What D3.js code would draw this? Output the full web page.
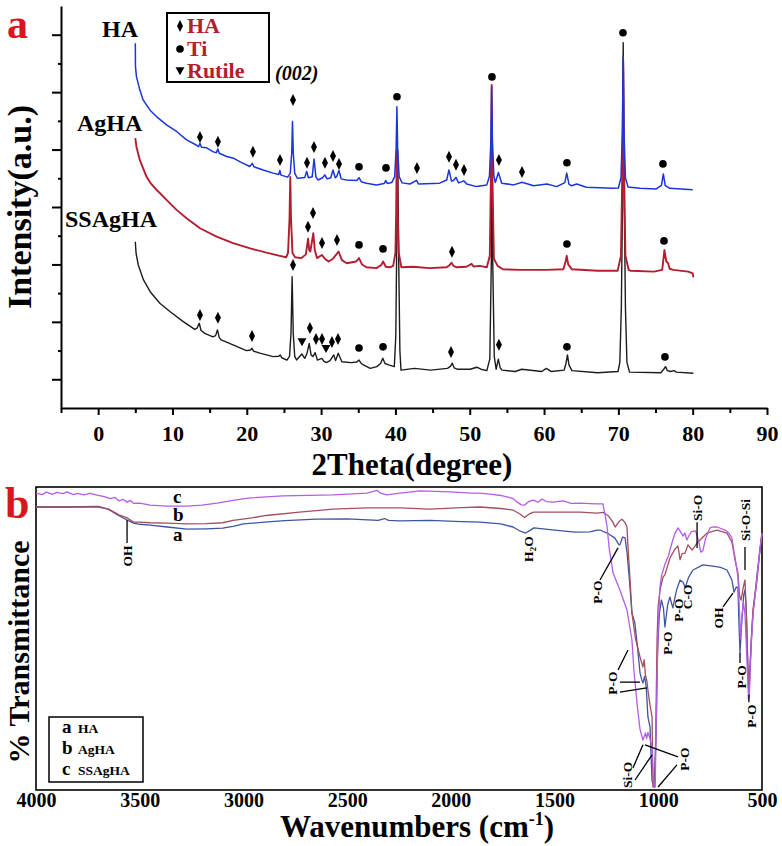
<!DOCTYPE html>
<html lang="en">
<head>
<meta charset="UTF-8">
<title>XRD and FTIR of HA, AgHA and SSAgHA</title>
<script src="https://d3js.org/d3.v7.min.js"></script>
<style>
  body { margin: 0; background: #fff; }
  text { font-family: "Liberation Serif", "Times New Roman", serif; font-weight: bold; }
</style>
</head>
<body>
<div id="chart"></div>
<script>
// ---------- panel a : XRD, [2theta, intensity a.u.] ----------
const xrdHA = [
  [5.0,12.7],[5.02,11.9],[5.15,11.54],[5.6,11.08],[6.05,10.73],[6.95,10.38],[7.85,10.15],[9.2,9.86],
  [10.55,9.63],[11.9,9.34],[13.2,9.16],[13.5,9.1],[13.7,9.22],[13.9,9.08],[14.6,9.06],[15.5,8.92],
  [15.9,8.89],[16.1,9.02],[16.3,8.87],[17.3,8.76],[18.2,8.70],[19.05,8.58],[20.4,8.41],[20.75,8.52],
  [20.95,8.40],[22.2,8.29],[23.55,8.18],[24.3,8.13],[24.45,8.27],[24.6,8.11],[25.5,8.04],[25.85,8.18],
  [26.05,8.9],[26.15,9.98],[26.25,8.9],[26.45,8.18],[26.8,8.0],[27.8,8.03],[28.05,8.24],[28.3,8.02],
  [28.8,8.05],[29.05,8.67],[29.3,8.05],[29.6,7.94],[30.2,8.02],[30.5,8.12],[30.8,7.98],[31.3,8.02],
  [31.6,8.29],[31.9,8.02],[32.1,8.06],[32.4,8.27],[32.7,7.98],[33.4,7.94],[34.8,7.92],[35.1,8.02],
  [35.4,7.88],[36.1,7.83],[37.45,7.77],[38.5,7.82],[38.7,7.92],[38.9,7.82],[39.5,7.85],[39.9,8.06],
  [40.1,9.04],[40.2,10.49],[40.3,9.04],[40.5,8.06],[40.9,7.84],[41.95,7.80],[42.85,7.93],[43.1,7.80],
  [45.95,7.83],[46.9,7.94],[47.2,8.29],[47.55,7.9],[47.8,7.92],[48.15,8.03],[48.5,7.84],[49.2,7.91],
  [49.6,7.80],[50.9,7.71],[52.3,7.77],[52.65,8.07],[52.85,9.3],[52.95,11.18],[53.05,9.3],[53.25,8.07],
  [53.45,7.85],[53.85,8.2],[54.3,7.83],[55.9,7.77],[57.05,7.86],[58.6,7.74],[60.4,7.8],[61.7,7.71],
  [62.8,7.85],[63.05,8.18],[63.35,7.80],[63.7,7.74],[64.4,7.80],[65.7,7.69],[69.3,7.65],[70.0,7.66],
  [70.35,8.02],[70.55,9.7],[70.65,12.23],[70.75,9.7],[70.95,8.02],[71.3,7.7],[72.9,7.65],[75.1,7.63],
  [75.8,7.75],[76.05,8.15],[76.3,7.75],[76.9,7.65],[80.0,7.60]
];
const xrdAgHA = [
  [5.0,9.40],[5.15,9.1],[5.6,8.64],[6.5,8.06],[7.0,7.85],[7.85,7.6],[9.2,7.25],[10.55,6.9],[11.9,6.61],
  [13.7,6.26],[15.95,5.97],[18.15,5.74],[20.45,5.56],[22.65,5.41],[24.45,5.30],[25.3,5.25],[25.55,5.4],
  [25.75,6.6],[25.85,8.05],[25.95,6.6],[26.15,5.4],[26.5,5.25],[27.35,5.22],[27.95,5.35],[28.25,5.9],
  [28.4,5.5],[28.55,5.45],[28.95,6.09],[29.15,5.5],[29.45,5.22],[30.1,5.33],[30.5,5.2],[31.0,5.10],
  [31.6,5.2],[32.35,5.45],[32.8,5.15],[33.45,5.04],[34.7,5.1],[35.1,5.22],[35.5,5.0],[36.1,4.90],
  [37.45,4.87],[38.1,4.98],[38.35,5.1],[38.7,4.92],[39.25,4.90],[39.7,4.95],[40.0,5.4],[40.1,6.8],
  [40.2,9.44],[40.3,6.8],[40.45,5.4],[40.8,4.90],[42.4,4.92],[44.6,4.87],[46.9,4.90],[47.3,4.98],
  [47.55,5.06],[47.8,4.95],[48.25,4.90],[49.55,4.92],[50.25,5.02],[50.5,4.93],[51.35,4.95],[52.3,4.90],
  [52.7,5.3],[52.85,8.0],[52.95,11.25],[53.05,8.0],[53.25,5.2],[53.75,4.95],[54.45,4.83],[56.85,4.81],
  [60.35,4.81],[62.6,4.83],[62.9,5.1],[63.05,5.30],[63.25,5.0],[63.75,4.83],[67.2,4.78],[69.9,4.78],
  [70.35,5.3],[70.55,8.5],[70.65,12.1],[70.75,8.5],[70.95,5.3],[71.4,4.80],[71.7,4.78],[74.8,4.75],
  [75.9,4.81],[76.2,5.5],[76.45,5.1],[76.7,5.04],[76.9,4.85],[77.4,4.81],[79.4,4.75],[80.0,4.69],[80.1,4.55]
];
const xrdSSAgHA = [
  [5.0,5.79],[5.1,5.39],[5.4,4.98],[6.1,4.46],[7.0,4.05],[8.3,3.65],[9.65,3.36],[11.45,3.01],[13.0,2.74],
  [13.3,2.78],[13.6,2.95],[13.85,2.7],[14.35,2.60],[15.45,2.48],[15.8,2.52],[16.05,2.72],[16.3,2.45],
  [16.55,2.37],[18.15,2.20],[19.95,2.0],[20.5,2.02],[20.7,2.08],[20.9,1.98],[21.75,1.91],[23.55,1.79],
  [24.3,1.80],[24.5,1.85],[24.7,1.75],[25.4,1.67],[25.75,1.8],[25.95,2.6],[26.1,4.57],[26.25,2.6],
  [26.45,1.8],[26.7,1.67],[27.4,1.88],[27.8,1.73],[28.1,1.9],[28.4,2.25],[28.65,1.85],[28.9,1.79],
  [29.2,1.93],[29.5,1.67],[30.1,1.73],[30.4,1.62],[30.7,1.58],[31.2,1.65],[31.7,1.85],[31.95,1.65],
  [32.3,1.91],[32.8,1.61],[34.0,1.58],[34.8,1.6],[35.1,1.67],[35.4,1.55],[35.7,1.50],[36.6,1.38],
  [37.5,1.44],[38.0,1.55],[38.3,1.73],[38.6,1.55],[39.1,1.50],[39.85,1.44],[40.05,2.5],[40.15,5.0],
  [40.3,8.99],[40.45,5.0],[40.6,2.0],[40.75,1.32],[42.55,1.38],[44.75,1.32],[47.0,1.38],[47.4,1.45],
  [47.65,1.56],[47.9,1.40],[48.3,1.35],[50.05,1.35],[50.95,1.42],[51.5,1.35],[52.3,1.30],[52.7,1.7],
  [52.9,5.0],[53.0,10.38],[53.1,5.0],[53.3,1.8],[53.55,1.35],[53.85,1.70],[54.1,1.4],[54.35,1.32],
  [56.1,1.27],[57.0,1.35],[59.7,1.27],[60.3,1.38],[61.0,1.27],[62.7,1.32],[62.95,1.55],[63.15,1.85],
  [63.35,1.5],[63.75,1.30],[67.2,1.23],[69.95,1.27],[70.2,1.6],[70.4,3.5],[70.55,7.0],[70.65,12.72],
  [70.8,7.0],[70.95,3.5],[71.15,1.6],[71.5,1.25],[75.7,1.23],[76.1,1.35],[76.35,1.44],[76.6,1.30],
  [77.0,1.27],[77.5,1.30],[77.8,1.25],[80.1,1.21]
];
// phase markers: [2theta, intensity, phase]  d = HA, c = Ti, t = Rutile
const marksHA = [
  [13.7,9.44,"d"],[16.12,9.27,"d"],[20.83,8.92,"d"],[24.47,8.64,"d"],[26.22,10.73,"d"],[28.1,8.54,"d"],
  [29.04,9.09,"d"],[30.52,8.54,"d"],[31.6,8.78,"d"],[32.41,8.5,"d"],[35.1,8.4,"c"],[38.73,8.36,"c"],
  [40.21,10.84,"c"],[42.9,8.36,"d"],[47.21,8.75,"d"],[48.15,8.47,"d"],[49.23,8.29,"d"],[52.99,11.53,"c"],
  [53.93,8.64,"d"],[57.03,8.22,"d"],[63.08,8.54,"c"],[70.62,13.07,"c"],[76.0,8.5,"c"]
];
const marksAgHA = [
  [28.24,6.31,"d"],[28.91,6.79,"d"],[30.12,5.75,"d"],[32.14,5.85,"d"],[35.1,5.68,"c"],[38.33,5.54,"c"],
  [47.61,5.44,"d"],[63.08,5.71,"c"],[76.14,5.82,"c"]
];
const marksSSAgHA = [
  [13.7,3.24,"d"],[16.12,3.14,"d"],[20.7,2.51,"d"],[26.22,4.98,"d"],[27.43,2.3,"t"],[28.5,2.79,"d"],
  [29.31,2.4,"d"],[30.12,2.4,"d"],[30.66,2.06,"t"],[31.46,2.3,"d"],[32.27,2.4,"d"],[35.1,2.09,"c"],
  [38.33,2.13,"c"],[47.48,1.95,"d"],[53.93,2.2,"d"],[63.08,2.13,"c"],[76.27,1.78,"c"]
];
const xrdNames = ["HA", "AgHA", "SSAgHA"];
const phaseNames = ["HA", "Ti", "Rutile"];
const xrdMajorTicks = [0, 10, 20, 30, 40, 50, 60, 70, 80, 90];
const xrdMinorTicks = [-5, 5, 15, 25, 35, 45, 55, 65, 75, 85];

// ---------- panel b : FTIR, [wavenumber, %T] ----------
const ftirA = [
  [4000,93.4],[3850,93.4],[3700,93.6],[3650,92.6],[3600,90.5],[3561,89.1],[3530,88.1],[3499,87.7],
  [3450,87.4],[3368,86.8],[3272,86.1],[3180,86.2],[3100,86.4],[3050,87.0],[3000,87.8],[2900,88.4],
  [2800,88.9],[2650,89.4],[2500,89.5],[2350,89.0],[2320,89.6],[2300,89.0],[2245,88.8],[2100,89.0],
  [1950,88.6],[1859,88.4],[1760,87.8],[1700,86.8],[1665,85.4],[1640,84.8],[1620,85.6],[1600,86.5],
  [1500,85.8],[1400,85.1],[1330,85.2],[1296,85.8],[1281,85.8],[1247,84.8],[1210,83.2],[1190,81.0],
  [1185,80.9],[1172,83.5],[1160,83.2],[1150,78],[1140,70],[1127,58.4],[1113,55.1],[1100,47],
  [1088,38.6],[1080,36.5],[1074,35.3],[1066,37.5],[1058,34],[1050,24.1],[1040,20.8],[1030,3],
  [1020,1.0],[1010,20],[1004,45],[995,58],[985,62.7],[975,60],[968,53.8],[955,61],[944,63.7],
  [930,60.1],[912,66],[895,69.3],[880,68.5],[870,66.8],[855,70],[833,72.6],[784,74.3],[736,73.9],
  [700,73.5],[669,72.6],[645,69.3],[635,65.3],[624,67.0],[616,66.7],[611,55],[606,45.2],[598,55],
  [588,64.5],[582,66],[576,60],[568,40],[563,30.7],[558,40],[550,52],[543,59.4],[530,67],[524,71],
  [512,78],[500,84.8]
];
const ftirB = [
  [4000,93.4],[3850,93.4],[3700,93.4],[3650,92.7],[3600,90.8],[3561,89.8],[3530,88.4],[3499,88.4],
  [3450,88.2],[3368,88.1],[3272,87.8],[3180,87.9],[3100,88.2],[3050,89.0],[2960,89.8],[2890,90.6],
  [2730,91.7],[2568,92.7],[2404,93.1],[2245,93.1],[2100,92.7],[1950,93.2],[1859,93.4],[1760,92.9],
  [1700,92.4],[1665,91.0],[1645,89.9],[1620,91.2],[1600,91.7],[1450,91.7],[1377,91.7],[1296,91.4],
  [1265,91.6],[1240,90.4],[1220,88.5],[1208,86.8],[1190,88.5],[1175,89.4],[1160,88.2],[1151,86.8],
  [1146,80.2],[1136,69.3],[1127,58.4],[1110,50],[1088,43.9],[1080,42],[1074,40.6],[1068,43],
  [1062,38],[1055,36],[1050,33],[1040,28],[1030,24.1],[1026,1.0],[1016,1.0],[1006,49.5],[1001,60.4],
  [992,66],[977,70.3],[968,71],[944,76.5],[920,79.5],[905,80.5],[895,76],[885,78],[871,78.2],
  [857,80.9],[837,79.2],[813,81.5],[765,84.8],[717,85.8],[669,84.8],[645,81.8],[630,75.9],[616,71.6],
  [608,64],[601,62.7],[590,67],[582,69.3],[574,55],[567,38],[563,33],[557,42],[543,59.4],[524,69.3],
  [512,78],[500,84.8]
];
const ftirC = [
  [4000,98.0],[3970,97.5],[3950,98.3],[3920,97.6],[3900,98.2],[3870,97.8],[3851,98.4],[3820,97.5],
  [3800,97.9],[3770,97.4],[3740,97.9],[3700,97.2],[3670,96.8],[3643,96.2],[3620,96.6],[3600,95.4],
  [3580,95.9],[3561,95.0],[3545,95.6],[3530,94.6],[3499,94.7],[3450,94.0],[3368,93.7],[3272,93.7],
  [3200,94.0],[3127,94.7],[3050,95.6],[2968,96.4],[2809,97.1],[2568,97.4],[2404,98.0],[2370,98.6],
  [2356,98.9],[2340,98.0],[2308,97.4],[2245,98.0],[2149,98.7],[2000,98.4],[1900,98.0],[1859,98.0],
  [1800,97.6],[1760,97.2],[1720,96.6],[1700,96.2],[1680,95.0],[1660,94.1],[1645,94.0],[1625,95.2],
  [1604,95.7],[1580,95.0],[1560,96.0],[1540,95.2],[1508,95.0],[1460,95.4],[1420,94.6],[1377,94.7],
  [1330,94.5],[1296,94.4],[1267,94.4],[1257,91],[1247,87],[1237,80],[1218,71.6],[1185,66.0],
  [1151,59.4],[1127,49.5],[1117,39],[1100,27],[1088,20],[1074,16.5],[1062,18.8],[1056,17],
  [1050,19],[1040,17],[1030,14],[1024,4],[1020,1.0],[1015,1.0],[1008,30],[1001,52],[992,67],
  [985,70.5],[968,74.5],[950,77.5],[944,79.2],[930,82.5],[919,84.8],[905,86.5],[895,85.5],[881,83.8],
  [872,84.8],[862,82.5],[852,84],[840,85.3],[820,85.5],[805,82],[795,78.5],[785,79],[772,83],
  [751,86.5],[735,86.8],[717,86.8],[678,85.8],[660,84.8],[645,83.2],[635,78.5],[630,76.9],[616,70.3],
  [608,58],[603,50],[597,57],[590,62],[582,58],[572,42],[565,30],[560,33],[552,48],[543,58],
  [524,70],[510,79.2],[500,84.8]
];
const ftirNames = ["HA", "AgHA", "SSAgHA"];
const ftirLetters = ["a", "b", "c"];
const ftirTicks = [4000, 3500, 3000, 2500, 2000, 1500, 1000, 500];

// ---------- drawing ----------
const width = 782, height = 846;
const svg = d3.select("#chart").append("svg")
  .attr("width", width).attr("height", height);

const xA = d3.scaleLinear().domain([-5, 90]).range([61, 767]);
const yA = d3.scaleLinear().domain([0, 14]).range([408, 6]);

function styleAxis(g, size) {
  g.attr("font-family", "Liberation Serif, serif").attr("font-size", size).attr("font-weight", "bold");
  g.selectAll("path, line").attr("stroke", "#000").attr("stroke-width", 2);
  g.selectAll("text").attr("fill", "#000");
}

// x axis, panel a
const axXa = svg.append("g").attr("transform", "translate(0,408)")
  .call(d3.axisBottom(xA).tickValues(xrdMajorTicks).tickSize(7).tickSizeOuter(0).tickPadding(10));
styleAxis(axXa, 22);
const axXaMinor = svg.append("g").attr("transform", "translate(0,408)")
  .call(d3.axisBottom(xA).tickValues(xrdMinorTicks).tickSize(5).tickFormat(""));
styleAxis(axXaMinor, 10);
axXaMinor.select(".domain").remove();

// y axis, panel a (no labels)
const axYa = svg.append("g").attr("transform", "translate(61,0)")
  .call(d3.axisLeft(yA).tickValues([1, 3, 5, 7, 9, 11, 13]).tickSize(9).tickSizeOuter(0).tickFormat(""));
styleAxis(axYa, 10);
const axYaMinor = svg.append("g").attr("transform", "translate(61,0)")
  .call(d3.axisLeft(yA).tickValues([2, 4, 6, 8, 10, 12]).tickSize(3).tickFormat(""));
styleAxis(axYaMinor, 10);
axYaMinor.select(".domain").remove();

const lineA = d3.line().x(d => xA(d[0])).y(d => yA(d[1]));
const xrdSets = [
  { data: xrdSSAgHA, color: "#1c1c1c", w: 1.4 },
  { data: xrdAgHA, color: "#b31d2f", w: 1.9 },
  { data: xrdHA, color: "#1a35d8", w: 1.5 }
];
xrdSets.forEach(s => {
  svg.append("path").datum(s.data)
    .attr("d", lineA).attr("fill", "none")
    .attr("stroke", s.color).attr("stroke-width", s.w).attr("stroke-linejoin", "round");
});

function symbolPath(kind) {
  if (kind === "d") return "M0,-6L3,0L0,6L-3,0Z";
  if (kind === "t") return "M-4.5,-3.8L4.5,-3.8L0,4.2Z";
  return d3.symbol(d3.symbolCircle, 46)();
}
[marksHA, marksAgHA, marksSSAgHA].forEach(arr => {
  svg.append("g").selectAll("path").data(arr).join("path")
    .attr("transform", d => `translate(${xA(d[0])},${yA(d[1])})`)
    .attr("d", d => symbolPath(d[2]))
    .attr("fill", "#000");
});

// series names
const nameY = [37, 131, 227];
const nameX = [102, 77, 65];
xrdNames.forEach((n, i) => {
  svg.append("text").attr("x", nameX[i]).attr("y", nameY[i])
    .attr("font-size", 24).attr("fill", "#000").text(n);
});

svg.append("text").attr("x", 275).attr("y", 80).attr("font-size", 20)
  .attr("font-style", "italic").attr("fill", "#000").text("(002)");

// phase legend
svg.append("rect").attr("x", 167).attr("y", 13).attr("width", 102).attr("height", 69)
  .attr("fill", "#fff").attr("stroke", "#000").attr("stroke-width", 2);
const legKinds = ["d", "c", "t"];
const legY = [26, 49, 71];
phaseNames.forEach((n, i) => {
  svg.append("path").attr("transform", `translate(180,${legY[i]})`)
    .attr("d", symbolPath(legKinds[i])).attr("fill", "#000");
  svg.append("text").attr("x", 187).attr("y", legY[i] + 7).attr("font-size", 22)
    .attr("fill", "#b3202c").text(n);
});

svg.append("text").attr("x", 412).attr("y", 475).attr("text-anchor", "middle")
  .attr("font-size", 31).attr("fill", "#000").text("2Theta(degree)");
svg.append("text").attr("transform", "translate(31,207) rotate(-90)").attr("text-anchor", "middle")
  .attr("font-size", 34).attr("fill", "#000").text("Intensity(a.u.)");
svg.append("text").attr("x", 7).attr("y", 38).attr("font-size", 42).attr("fill", "#d8161c").text("a");

// ---------- panel b ----------
const xB = d3.scaleLinear().domain([4000, 500]).range([36, 762]);
const yB = d3.scaleLinear().domain([0, 100]).range([790, 487]);

svg.append("rect").attr("x", 36).attr("y", 487).attr("width", 726).attr("height", 303)
  .attr("fill", "none").attr("stroke", "#000").attr("stroke-width", 1.6);

const axXb = svg.append("g").attr("transform", "translate(0,790)")
  .call(d3.axisBottom(xB).tickValues(ftirTicks).tickSize(0).tickPadding(3).tickFormat(d3.format("d")));
styleAxis(axXb, 20);
axXb.select(".domain").remove();

const lineB = d3.line().x(d => xB(d[0])).y(d => yB(d[1]));
const ftirSets = [
  { data: ftirA, color: "#3f55a0" },
  { data: ftirB, color: "#a24f5e" },
  { data: ftirC, color: "#b45ee6" }
];
ftirSets.forEach(s => {
  svg.append("path").datum(s.data)
    .attr("d", lineB).attr("fill", "none")
    .attr("stroke", s.color).attr("stroke-width", 1.3).attr("stroke-linejoin", "round");
});

// curve letters near 3300 cm-1
const letterY = [541, 521, 503];
ftirLetters.forEach((l, i) => {
  svg.append("text").attr("x", 173).attr("y", letterY[i]).attr("font-size", 19)
    .attr("fill", "#000").text(l);
});

// band assignments: label centre [w, T], leader segments [w1, T1, w2, T2]
const ftirNotes = [
  { t: "OH", at: [3561, 77.2], lines: [[3561, 89.1, 3561, 81.5]] },
  { t: "H2O", at: [1628, 79.5], lines: [] },
  { t: "P-O", at: [1295, 65.3], lines: [[1281, 69.3, 1194, 79.9]] },
  { t: "P-O", at: [958, 48.5], lines: [] },
  { t: "P-O", at: [905, 59.4], lines: [] },
  { t: "C-O", at: [862, 63.7], lines: [] },
  { t: "OH", at: [712, 56.8], lines: [[688, 60.4, 640, 65.0]] },
  { t: "Si-O", at: [813, 93.1], lines: [[813, 88.4, 813, 79.9]] },
  { t: "Si-O-Si", at: [582, 89.1], lines: [[582, 80.2, 582, 72.6]] },
  { t: "P-O", at: [1223, 35.3], lines: [[1194, 39.6, 1146, 46.2], [1185, 35.6, 1088, 35.6], [1185, 32.3, 1055, 33.7]] },
  { t: "P-O", at: [601, 37.3], lines: [[606, 45.2, 606, 41.9]] },
  { t: "P-O", at: [553, 24.4], lines: [[563, 31.4, 563, 29.0]] },
  { t: "Si-O", at: [1151, 5.0], lines: [[1122, 7.3, 1074, 14.9], [1112, 3.3, 1030, 11.6]] },
  { t: "P-O", at: [876, 10.2], lines: [[905, 10.9, 1064, 14.9], [910, 8.3, 1001, 1.0]] }
];
ftirNotes.forEach(n => {
  n.lines.forEach(l => {
    svg.append("line").attr("x1", xB(l[0])).attr("y1", yB(l[1]))
      .attr("x2", xB(l[2])).attr("y2", yB(l[3]))
      .attr("stroke", "#000").attr("stroke-width", 1.3);
  });
  const t = svg.append("text")
    .attr("transform", `translate(${xB(n.at[0]) + 5},${yB(n.at[1])}) rotate(-90)`)
    .attr("text-anchor", "middle").attr("font-size", 13.5).attr("fill", "#000");
  if (n.t === "H2O") {
    t.append("tspan").text("H");
    t.append("tspan").attr("font-size", 9).attr("dy", 3).text("2");
    t.append("tspan").attr("dy", -3).text("O");
  } else {
    t.text(n.t);
  }
});

// legend, panel b
svg.append("rect").attr("x", 49).attr("y", 717).attr("width", 94).attr("height", 65)
  .attr("fill", "#fff").attr("stroke", "#000").attr("stroke-width", 1.5);
ftirNames.forEach((n, i) => {
  const y = 733 + i * 21;
  svg.append("text").attr("x", 62).attr("y", y).attr("font-size", 19).attr("fill", "#000").text(ftirLetters[i]);
  svg.append("text").attr("x", 78).attr("y", y).attr("font-size", 13.5).attr("fill", "#000").text(n);
});

const wl = svg.append("text").attr("x", 417).attr("y", 837).attr("text-anchor", "middle")
  .attr("font-size", 31).attr("fill", "#000");
wl.append("tspan").text("Wavenumbers (cm");
wl.append("tspan").attr("font-size", 18).attr("dy", -12).text("-1");
wl.append("tspan").attr("dy", 12).text(")");

svg.append("text").attr("transform", "translate(29,652) rotate(-90)").attr("text-anchor", "middle")
  .attr("font-size", 30).attr("fill", "#000").text("% Transmittance");
svg.append("text").attr("x", 5).attr("y", 518).attr("font-size", 44).attr("fill", "#d8161c").text("b");
</script>
</body>
</html>
